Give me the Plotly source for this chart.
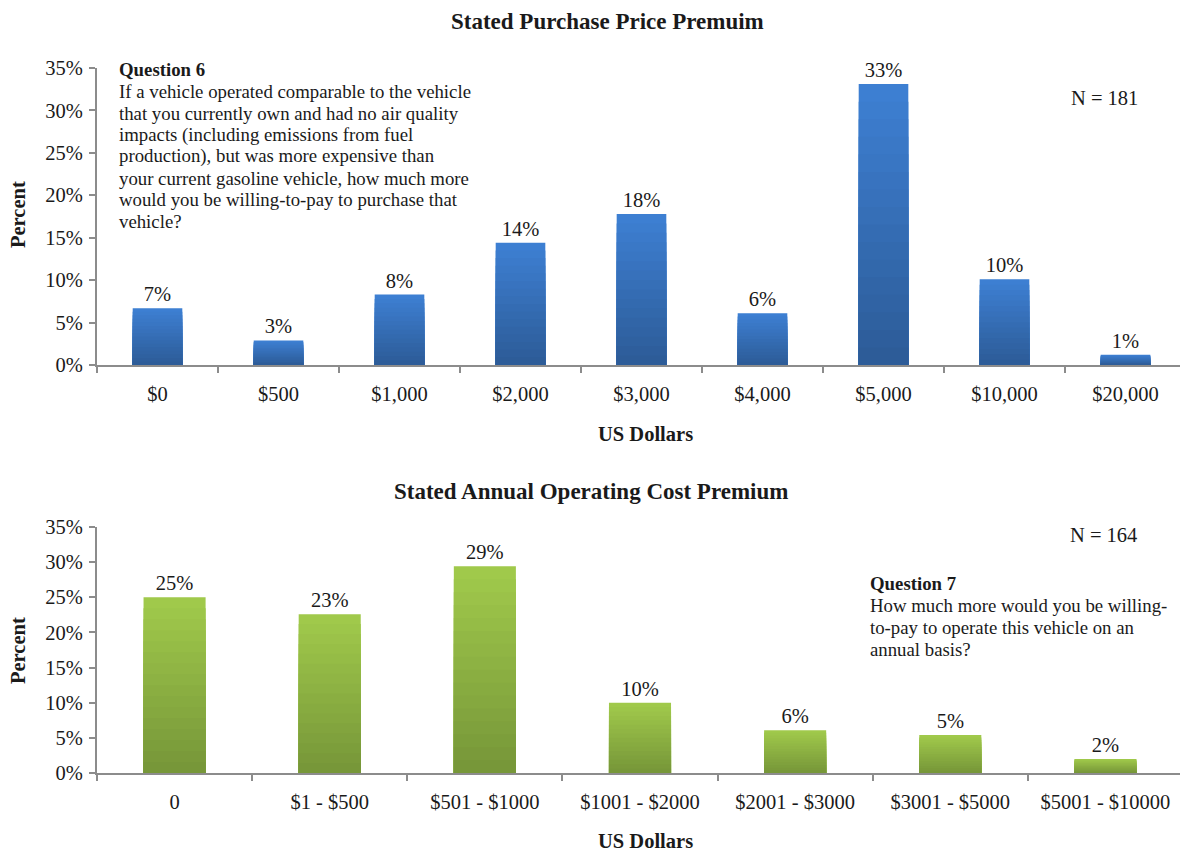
import plotly.graph_objects as go

# ---- data ----
price_cats = ["$0", "$500", "$1,000", "$2,000", "$3,000", "$4,000", "$5,000", "$10,000", "$20,000"]
price_pct = [6.7, 2.9, 8.3, 14.4, 17.8, 6.1, 33.1, 10.1, 1.2]

oper_cats = ["0", "$1 - $500", "$501 - $1000", "$1001 - $2000", "$2001 - $3000", "$3001 - $5000", "$5001 - $10000"]
oper_pct = [25.0, 22.6, 29.4, 10.0, 6.1, 5.4, 2.0]

y_ticks = [0, 5, 10, 15, 20, 25, 30, 35]
y_ticktext = ["0%", "5%", "10%", "15%", "20%", "25%", "30%", "35%"]

q6_lines = ["<b>Question 6</b>",
            "If a vehicle operated comparable to the vehicle",
            "that you currently own and had no air quality",
            "impacts (including emissions from fuel",
            "production), but was more expensive than",
            "your current gasoline vehicle, how much more",
            "would you be willing-to-pay to purchase that",
            "vehicle?"]
q7_lines = ["<b>Question 7</b>",
            "How much more would you be willing-",
            "to-pay to operate this vehicle on an",
            "annual basis?"]

# ---- style ----
OFF = 8                      # page body margin
W, H = 1188 - OFF, 851 - OFF
FONT = "Liberation Serif"
TXT = "#1a1a1a"
AX = "#8c8c8c"
N_STEPS = 16
TICK_SIZE = 20.5


def lerp(c1, c2, t):
    a = [int(c1[i:i + 2], 16) for i in (1, 3, 5)]
    b = [int(c2[i:i + 2], 16) for i in (1, 3, 5)]
    return "rgb(%d,%d,%d)" % tuple(round(a[j] + (b[j] - a[j]) * t) for j in range(3))


def px_x(p):
    return (p - OFF) / W


def px_y(p):
    return 1 - (p - OFF) / H


fig = go.Figure()


def add_gradient_bars(cats, vals, xa, ya, top, bottom, width):
    for k in range(N_STEPS):
        f = 1 - k / N_STEPS
        t = k / (N_STEPS - 1)
        fig.add_trace(go.Bar(
            x=cats, y=[v * f for v in vals], xaxis=xa, yaxis=ya,
            marker=dict(color=lerp(top, bottom, t), line=dict(width=0)),
            width=width,
            text=[f"{v:.0f}%" for v in vals] if k == 0 else None,
            textposition="outside" if k == 0 else "none",
            textfont=dict(family=FONT, size=TICK_SIZE, color=TXT),
            cliponaxis=False, constraintext="none",
            hoverinfo="skip", showlegend=False,
        ))


add_gradient_bars(price_cats, price_pct, "x", "y", "#3d7fd2", "#2d5c98", 0.41)
add_gradient_bars(oper_cats, oper_pct, "x2", "y2", "#a0c94b", "#779739", 0.40)

xcommon = dict(type="category", showline=True, linecolor=AX, linewidth=2,
               ticks="outside", tickson="boundaries", ticklen=6, tickcolor=AX, tickwidth=2,
               ticklabelstandoff=9, automargin=False,
               tickfont=dict(family=FONT, size=TICK_SIZE, color=TXT), showgrid=False, zeroline=False)
ycommon = dict(range=[0, 35], tickvals=y_ticks, ticktext=y_ticktext, showline=True, linecolor=AX,
               linewidth=2, ticks="outside", ticklen=6, tickcolor=AX, tickwidth=2,
               ticklabelstandoff=2, automargin=False,
               tickfont=dict(family=FONT, size=TICK_SIZE, color=TXT), showgrid=False, zeroline=False)

fig.update_layout(
    template="none",
    width=W, height=H, barmode="overlay",
    margin=dict(l=0, r=0, t=0, b=0, pad=0),
    paper_bgcolor="white", plot_bgcolor="white",
    font=dict(family=FONT, color=TXT),
    xaxis=dict(domain=[px_x(97), px_x(1186)], anchor="y", **xcommon),
    yaxis=dict(domain=[px_y(365), px_y(68)], anchor="x", **ycommon),
    xaxis2=dict(domain=[px_x(97), px_x(1183)], anchor="y2", **xcommon),
    yaxis2=dict(domain=[px_y(773), px_y(527)], anchor="x2", **ycommon),
)

ann = []


def a(text, x, y, size, bold=False, xanchor="center", textangle=0):
    ann.append(dict(text=f"<b>{text}</b>" if bold else text, x=px_x(x), y=px_y(y),
                    xref="paper", yref="paper", showarrow=False, xanchor=xanchor,
                    yanchor="middle", textangle=textangle,
                    font=dict(family=FONT, size=size, color=TXT)))


a("Stated Purchase Price Premuim", 607, 22, 23, bold=True)
a("Stated Annual Operating Cost Premium", 591, 491, 23, bold=True)
a("US Dollars", 645, 434, 20.5, bold=True)
a("US Dollars", 645, 841, 20.5, bold=True)
a("Percent", 18, 215, 20.5, bold=True, textangle=-90)
a("Percent", 18, 651, 20.5, bold=True, textangle=-90)
a("N = 181", 1104, 98, 20.5)
a("N = 164", 1103, 535, 20.5)

for i, line in enumerate(q6_lines):
    a(line, 117, 70 + i * 21.6, 18.8, xanchor="left")
for i, line in enumerate(q7_lines):
    a(line, 868, 583 + i * 22, 18.8, xanchor="left")

fig.update_layout(annotations=ann)
fig.write_html("out.html")
